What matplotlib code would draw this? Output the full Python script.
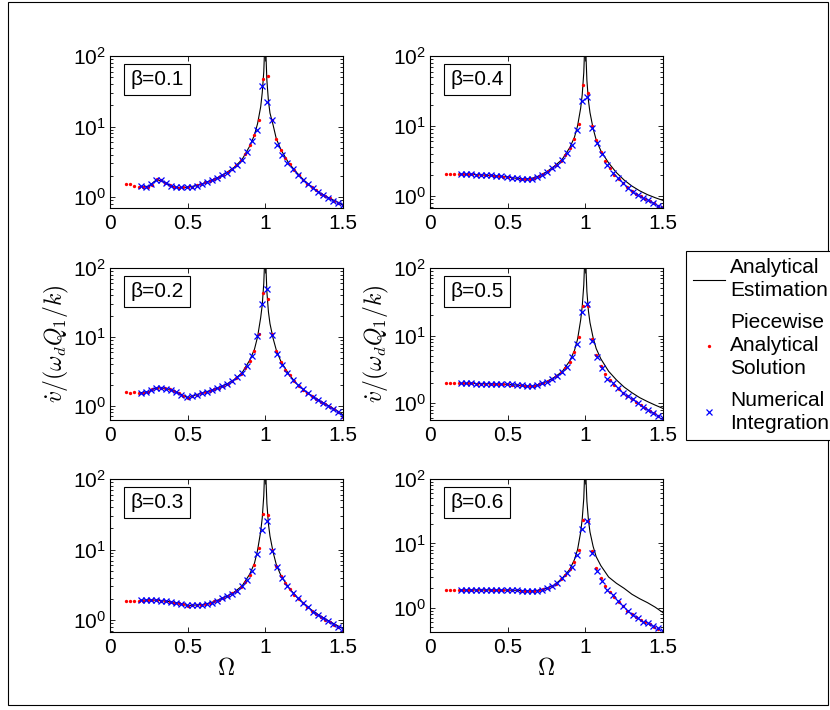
import numpy as np
import matplotlib
matplotlib.use('Agg')
import matplotlib.pyplot as plt
from matplotlib.patches import Rectangle

plt.rcParams['font.family'] = ['Liberation Sans', 'DejaVu Sans']

# frequency grids (Omega)
omega_red = [0.100, 0.129, 0.157, 0.186, 0.214, 0.243, 0.271, 0.300, 0.329, 0.357,
             0.386, 0.414, 0.443, 0.471, 0.500, 0.529, 0.557, 0.586, 0.614, 0.643,
             0.671, 0.700, 0.729, 0.757, 0.786, 0.814, 0.843, 0.871, 0.900, 0.929,
             0.957, 0.986, 1.014, 1.043, 1.071, 1.100, 1.129, 1.157, 1.186, 1.214,
             1.243, 1.271, 1.300, 1.329, 1.357, 1.386, 1.414, 1.443, 1.471, 1.500]
omega_blue = [0.200, 0.2325, 0.265, 0.2975, 0.330, 0.3625, 0.395, 0.4275, 0.460, 0.4925,
              0.525, 0.5575, 0.590, 0.6225, 0.655, 0.6875, 0.720, 0.7525, 0.785, 0.8175,
              0.850, 0.8825, 0.915, 0.9475, 0.980, 1.0125, 1.045, 1.0775, 1.110, 1.1425,
              1.175, 1.2075, 1.240, 1.2725, 1.305, 1.3375, 1.370, 1.4025, 1.435, 1.4675,
              1.500]
omega_line = [0.20, 0.25, 0.30, 0.35, 0.40, 0.45, 0.50, 0.55, 0.60, 0.65,
              0.70, 0.75, 0.80, 0.85, 0.90, 0.93, 0.95, 0.97, 0.98, 0.99,
              0.995, 1.00, 1.005, 1.01, 1.02, 1.03, 1.05, 1.07, 1.10, 1.15,
              1.20, 1.25, 1.30, 1.35, 1.40, 1.45, 1.50]

betas = ['0.1', '0.2', '0.3', '0.4', '0.5', '0.6']

# beta = 0.1
piecewise_01 = [1.53, 1.53, 1.42, 1.40, 1.40, 1.39, 1.50, 1.78, 1.72, 1.60,
                1.47, 1.38, 1.36, 1.38, 1.37, 1.40, 1.46, 1.54, 1.62, 1.70,
                1.80, 1.92, 2.08, 2.27, 2.52, 2.85, 3.30, 4.10, 5.40, 7.60,
                12.5, 47.0, 52.0, 12.5, 6.6, 4.7, 3.6, 2.9, 2.45, 2.07,
                1.76, 1.55, 1.38, 1.24, 1.12, 1.04, 0.96, 0.88, 0.83, 0.77]
numerical_01 = [1.42, 1.39, 1.55, 1.76, 1.72, 1.58, 1.45, 1.37, 1.37, 1.38,
                1.40, 1.45, 1.52, 1.62, 1.74, 1.88, 2.03, 2.22, 2.50, 2.85,
                3.35, 4.4, 6.2, 8.9, 37.0, 22.5, 12.3, 5.4, 4.0, 3.0,
                2.47, 2.05, 1.74, 1.51, 1.33, 1.19, 1.07, 0.98, 0.89, 0.83,
                0.78]
analytical_01 = [1.41, 1.42, 1.77, 1.62, 1.42, 1.36, 1.38, 1.44, 1.56, 1.72,
                 1.92, 2.22, 2.65, 3.4, 5.3, 7.6, 11.0, 19.0, 30.0, 60.0,
                 120.0, 1000.0, 90.0, 45.0, 23.0, 15.5, 10.5, 6.8, 4.7, 3.05,
                 2.25, 1.72, 1.38, 1.15, 1.0, 0.88, 0.78]

# beta = 0.2
piecewise_02 = [1.60, 1.52, 1.60, 1.55, 1.55, 1.58, 1.72, 1.82, 1.82, 1.78,
                1.72, 1.65, 1.53, 1.40, 1.28, 1.37, 1.44, 1.51, 1.57, 1.64,
                1.74, 1.83, 1.95, 2.08, 2.30, 2.55, 2.90, 3.50, 4.50, 6.30,
                11.0, 44.0, 36.0, 11.0, 6.3, 4.3, 3.3, 2.75, 2.25, 1.95,
                1.71, 1.54, 1.39, 1.26, 1.15, 1.05, 0.97, 0.89, 0.80, 0.69]
numerical_02 = [1.55, 1.57, 1.70, 1.82, 1.82, 1.77, 1.70, 1.60, 1.45, 1.33,
                1.37, 1.45, 1.53, 1.59, 1.70, 1.81, 1.93, 2.07, 2.30, 2.58,
                3.00, 3.75, 5.2, 10.2, 30.0, 50.0, 10.6, 5.6, 3.9, 3.0,
                2.35, 1.98, 1.72, 1.53, 1.36, 1.22, 1.09, 0.99, 0.90, 0.80,
                0.72]
analytical_02 = [1.55, 1.60, 1.83, 1.79, 1.69, 1.50, 1.30, 1.43, 1.55, 1.67,
                 1.83, 2.05, 2.40, 3.00, 4.60, 6.6, 10.0, 19.0, 29.0, 60.0,
                 120.0, 1000.0, 90.0, 45.0, 23.0, 15.5, 9.5, 6.5, 4.4, 2.9,
                 2.10, 1.67, 1.38, 1.18, 1.02, 0.88, 0.74]

# beta = 0.3
piecewise_03 = [1.88, 1.88, 1.88, 1.85, 1.90, 1.93, 1.93, 1.92, 1.89, 1.86,
                1.82, 1.78, 1.74, 1.69, 1.60, 1.62, 1.64, 1.66, 1.69, 1.75,
                1.84, 1.95, 2.07, 2.20, 2.40, 2.60, 2.95, 3.45, 4.40, 6.0,
                10.5, 32.0, 31.0, 10.0, 5.9, 4.2, 3.4, 2.8, 2.3, 2.0,
                1.75, 1.55, 1.36, 1.22, 1.12, 1.02, 0.93, 0.86, 0.79, 0.72]
numerical_03 = [1.92, 1.95, 1.94, 1.93, 1.89, 1.86, 1.81, 1.77, 1.71, 1.63,
                1.62, 1.64, 1.66, 1.70, 1.78, 1.90, 2.04, 2.18, 2.38, 2.62,
                3.05, 3.65, 4.9, 8.7, 19.0, 25.0, 9.7, 5.6, 3.95, 3.0,
                2.45, 2.05, 1.75, 1.52, 1.32, 1.18, 1.07, 0.96, 0.88, 0.80,
                0.74]
analytical_03 = [1.92, 1.94, 1.92, 1.87, 1.81, 1.73, 1.61, 1.64, 1.67, 1.77,
                 1.95, 2.17, 2.50, 3.05, 4.50, 6.4, 9.8, 18.0, 28.0, 58.0,
                 120.0, 1000.0, 90.0, 45.0, 23.0, 15.5, 9.2, 6.2, 4.3, 2.9,
                 2.15, 1.70, 1.38, 1.16, 1.00, 0.87, 0.76]

# beta = 0.4
piecewise_04 = [2.04, 2.04, 2.04, 2.04, 2.03, 2.02, 2.02, 2.01, 2.00, 1.98,
                1.96, 1.94, 1.92, 1.89, 1.86, 1.82, 1.78, 1.75, 1.74, 1.76,
                1.82, 1.92, 2.06, 2.25, 2.50, 2.80, 3.20, 3.80, 4.80, 6.5,
                10.7, 38.0, 30.0, 10.0, 6.2, 4.3, 3.2, 2.5, 2.0, 1.74,
                1.52, 1.32, 1.18, 1.07, 0.98, 0.91, 0.84, 0.78, 0.72, 0.69]
numerical_04 = [2.04, 2.03, 2.02, 2.01, 2.00, 1.98, 1.96, 1.93, 1.90, 1.87,
                1.82, 1.78, 1.75, 1.74, 1.77, 1.87, 2.00, 2.22, 2.48, 2.80,
                3.30, 4.10, 5.40, 8.8, 23.0, 26.0, 9.3, 5.65, 3.98, 2.77,
                2.15, 1.79, 1.52, 1.29, 1.15, 1.03, 0.93, 0.86, 0.79, 0.72,
                0.68]
analytical_04 = [2.04, 2.03, 2.01, 1.98, 1.95, 1.91, 1.86, 1.79, 1.74, 1.77,
                 1.92, 2.20, 2.65, 3.30, 4.90, 6.9, 10.0, 18.0, 28.0, 58.0,
                 120.0, 1000.0, 90.0, 45.0, 23.0, 15.5, 9.2, 6.3, 4.4, 2.95,
                 2.15, 1.68, 1.38, 1.18, 1.04, 0.94, 0.86]

# beta = 0.5
piecewise_05 = [1.95, 1.95, 1.95, 1.95, 1.95, 1.95, 1.95, 1.94, 1.94, 1.93,
                1.93, 1.92, 1.91, 1.90, 1.89, 1.87, 1.85, 1.82, 1.79, 1.77,
                1.79, 1.88, 1.98, 2.10, 2.28, 2.52, 2.85, 3.30, 4.10, 5.6,
                9.4, 27.0, 27.0, 9.0, 5.2, 3.5, 2.7, 2.2, 1.83, 1.60,
                1.40, 1.25, 1.13, 1.02, 0.92, 0.84, 0.77, 0.71, 0.64, 0.57]
numerical_05 = [1.95, 1.95, 1.95, 1.94, 1.94, 1.93, 1.93, 1.92, 1.91, 1.90,
                1.88, 1.85, 1.82, 1.78, 1.77, 1.83, 1.95, 2.08, 2.28, 2.55,
                2.90, 3.45, 4.8, 7.6, 22.6, 29.0, 8.4, 4.8, 3.3, 2.3,
                1.95, 1.68, 1.42, 1.25, 1.13, 1.00, 0.88, 0.79, 0.72, 0.65,
                0.59]
analytical_05 = [1.95, 1.95, 1.94, 1.93, 1.93, 1.91, 1.89, 1.85, 1.80, 1.77,
                 1.87, 2.07, 2.40, 2.90, 4.20, 6.0, 8.8, 17.0, 27.0, 56.0,
                 115.0, 1000.0, 90.0, 45.0, 23.0, 15.5, 9.3, 6.4, 4.5, 2.95,
                 2.20, 1.72, 1.42, 1.20, 1.05, 0.93, 0.83]

# beta = 0.6
piecewise_06 = [1.92, 1.90, 1.87, 1.88, 1.89, 1.89, 1.89, 1.89, 1.89, 1.89,
                1.89, 1.89, 1.89, 1.88, 1.88, 1.87, 1.86, 1.85, 1.83, 1.82,
                1.83, 1.87, 1.93, 2.00, 2.15, 2.38, 2.75, 3.25, 3.95, 5.2,
                7.9, 23.0, 22.0, 7.5, 4.1, 2.9, 2.2, 1.75, 1.45, 1.23,
                1.05, 0.90, 0.79, 0.71, 0.64, 0.59, 0.55, 0.51, 0.47, 0.42]
numerical_06 = [1.89, 1.89, 1.89, 1.89, 1.89, 1.89, 1.89, 1.89, 1.88, 1.88,
                1.87, 1.86, 1.84, 1.82, 1.82, 1.84, 1.91, 2.00, 2.15, 2.40,
                2.85, 3.45, 4.30, 6.6, 16.5, 22.0, 7.0, 3.7, 2.6, 1.9,
                1.58, 1.28, 1.06, 0.89, 0.78, 0.69, 0.61, 0.57, 0.52, 0.48,
                0.44]
analytical_06 = [1.89, 1.89, 1.89, 1.89, 1.89, 1.88, 1.88, 1.87, 1.85, 1.82,
                 1.87, 2.00, 2.25, 2.85, 3.95, 5.6, 8.0, 15.0, 24.0, 50.0,
                 110.0, 1000.0, 90.0, 45.0, 23.0, 15.0, 9.0, 6.2, 4.5, 3.0,
                 2.40, 2.00, 1.62, 1.38, 1.20, 1.02, 0.84]

y_bottom = [0.70, 0.62, 0.68, 0.67, 0.56, 0.42]

piecewise = [piecewise_01, piecewise_02, piecewise_03, piecewise_04, piecewise_05, piecewise_06]
numerical = [numerical_01, numerical_02, numerical_03, numerical_04, numerical_05, numerical_06]
analytical = [analytical_01, analytical_02, analytical_03, analytical_04, analytical_05, analytical_06]

W, H = 830, 710
fig = plt.figure(figsize=(W / 100, H / 100), dpi=100)

# axes boxes in pixels: (left, top, width, height)
lefts = [110, 430]
tops = [56, 268, 479]
heights = [152, 152, 153]
axw = 233

axes = []
for i in range(6):
    col = i // 3
    row = i % 3
    l = lefts[col]
    t = tops[row]
    h = heights[row]
    ax = fig.add_axes([l / W, 1 - (t + h) / H, axw / W, h / H])
    axes.append(ax)

    la, = ax.plot(omega_line, analytical[i], color='k', lw=0.8)
    lr, = ax.plot(omega_red, piecewise[i], ls='none', marker='o', ms=2.4,
                  mew=0, color='r')
    lb, = ax.plot(omega_blue, numerical[i], ls='none', marker='x', ms=5,
                  mew=0.9, color='b')

    ax.set_yscale('log')
    ax.set_xlim(0, 1.5)
    ax.set_ylim(y_bottom[i], 100)
    ax.set_xticks([0, 0.5, 1, 1.5])
    ax.set_xticklabels(['0', '0.5', '1', '1.5'])
    ax.tick_params(which='both', direction='in', top=True, right=True,
                   labelsize=15, width=0.6)
    ax.tick_params(which='major', length=3.5)
    ax.tick_params(which='minor', length=2)
    ax.tick_params(axis='x', pad=4)
    ax.tick_params(axis='y', pad=3)
    for s in ax.spines.values():
        s.set_linewidth(0.8)

    ax.text(20 / axw, 1 - 14 / h, '\u03b2=' + betas[i], transform=ax.transAxes,
            fontsize=15, va='top', ha='left',
            bbox=dict(boxstyle='square,pad=0.3', fc='white', ec='k', lw=0.8))

    if row == 1:
        ax.set_ylabel(r'$\dot{v}/(\omega_d Q_1/k)$', fontsize=17,
                      math_fontfamily='cm', labelpad=1)
    if row == 2:
        ax.set_xlabel(r'$\Omega$', fontsize=17, math_fontfamily='cm', labelpad=1)

leg = fig.legend([la, lr, lb],
                 ['Analytical\nEstimation', 'Piecewise\nAnalytical\nSolution',
                  'Numerical\nIntegration'],
                 loc='upper left', bbox_to_anchor=(686 / W, 1 - 251 / H),
                 bbox_transform=fig.transFigure, fontsize=15, frameon=True,
                 fancybox=False, edgecolor='k', framealpha=1, borderpad=0.35,
                 handlelength=1.5, handletextpad=0.25, labelspacing=0.6,
                 borderaxespad=0)
leg.get_frame().set_linewidth(0.8)
for t in leg.get_texts():
    t.set_linespacing(1.28)

# outer frame
fig.patches.append(Rectangle((8 / W, 5 / H), 820 / W, 703 / H,
                             transform=fig.transFigure, fill=False,
                             ec='k', lw=0.8))

fig.savefig('out.png', dpi=100)
